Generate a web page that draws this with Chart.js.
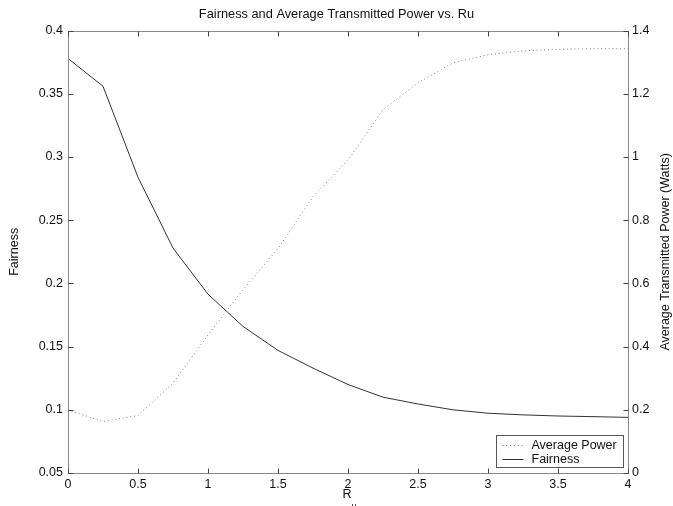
<!DOCTYPE html>
<html>
<head>
<meta charset="utf-8">
<script src="https://cdn.jsdelivr.net/npm/chart.js@4.4.0/dist/chart.umd.min.js"></script>
<style>
  html, body { margin: 0; padding: 0; background: #fff; }
  #contGrafica { width: 673px; height: 506px; }
</style>
</head>
<body>
<div id="contGrafica"><canvas id="grafica"></canvas></div>
<script>
// valores de Ru (eje x)
const ru = [0, 0.25, 0.5, 0.75, 1, 1.25, 1.5, 1.75, 2, 2.25, 2.5, 2.75, 3, 3.25, 3.5, 3.75, 4];
// fairness (eje izquierdo)
const fairness = [0.378, 0.356, 0.284, 0.228, 0.1915, 0.166, 0.147, 0.133, 0.12, 0.11, 0.1046, 0.1, 0.0973, 0.096, 0.0951, 0.0946, 0.094];
// potencia promedio transmitida en watts (eje derecho)
const avgPower = [0.2, 0.163, 0.182, 0.284, 0.437, 0.58, 0.71, 0.875, 0.99, 1.15, 1.235, 1.298, 1.324, 1.336, 1.341, 1.343, 1.343];

// marcas de los ejes
const ruTicks = [0, 0.5, 1, 1.5, 2, 2.5, 3, 3.5, 4];
const fairTicks = [0.05, 0.1, 0.15, 0.2, 0.25, 0.3, 0.35, 0.4];
const powerTicks = [0, 0.2, 0.4, 0.6, 0.8, 1, 1.2, 1.4];

const fuente = '"Liberation Sans", Arial, Helvetica, sans-serif';
Chart.defaults.font.family = fuente;
Chart.defaults.font.size = 12.5;
Chart.defaults.color = '#111';

const setTicks = lista => s => { s.ticks = lista.map(v => ({ value: v })); };

// marco, marcas hacia adentro, leyenda y etiquetas de ejes
const marcoEjes = {
    id: 'marcoEjes',
    afterDraw(chart) {
        const { ctx, chartArea: ca, scales } = chart;
        const L = Math.round(ca.left) + 0.5, R = Math.round(ca.right) + 0.5;
        const T = Math.round(ca.top) + 0.5, B = Math.round(ca.bottom) + 0.5;
        const tk = 5;
        ctx.save();
        ctx.strokeStyle = '#888';
        ctx.lineWidth = 1;
        ctx.strokeRect(L, T, R - L, B - T);

        ctx.strokeStyle = '#444';
        ctx.beginPath();
        scales.x.ticks.forEach(t => {
            const px = Math.round(scales.x.getPixelForValue(t.value)) + 0.5;
            ctx.moveTo(px, B); ctx.lineTo(px, B - tk);
            ctx.moveTo(px, T); ctx.lineTo(px, T + tk);
        });
        scales.yFair.ticks.forEach(t => {
            const py = Math.round(scales.yFair.getPixelForValue(t.value)) + 0.5;
            ctx.moveTo(L, py); ctx.lineTo(L + tk, py);
        });
        scales.yPot.ticks.forEach(t => {
            const py = Math.round(scales.yPot.getPixelForValue(t.value)) + 0.5;
            ctx.moveTo(R, py); ctx.lineTo(R - tk, py);
        });
        ctx.stroke();

        // leyenda
        const bw = 127, bh = 32;
        const bx = Math.round(ca.right - 5 - bw) + 0.5;
        const by = Math.round(ca.bottom - 6 - bh) + 0.5;
        ctx.fillStyle = '#fff';
        ctx.fillRect(bx, by, bw, bh);
        ctx.strokeStyle = '#555';
        ctx.strokeRect(bx, by, bw, bh);
        ctx.font = '12.5px ' + fuente;
        ctx.textBaseline = 'middle';
        ctx.textAlign = 'left';
        chart.data.datasets.forEach((ds, i) => {
            const yy = Math.round(by + 9 + i * 14) + 0.5;
            ctx.strokeStyle = ds.borderColor;
            ctx.lineWidth = ds.borderWidth;
            ctx.setLineDash(ds.borderDash || []);
            ctx.beginPath();
            ctx.moveTo(bx + 6, yy); ctx.lineTo(bx + 27, yy);
            ctx.stroke();
            ctx.setLineDash([]);
            ctx.fillStyle = '#111';
            ctx.fillText(ds.label, bx + 35, yy);
        });

        // título del eje derecho, leído de abajo hacia arriba
        ctx.save();
        ctx.translate(chart.width - 7, (ca.top + ca.bottom) / 2);
        ctx.rotate(-Math.PI / 2);
        ctx.textAlign = 'center';
        ctx.textBaseline = 'middle';
        ctx.fillText('Average Transmitted Power (Watts)', 0, 0);
        ctx.restore();

        // etiqueta del eje x con subíndice
        const cx = (ca.left + ca.right) / 2;
        ctx.textAlign = 'center';
        ctx.textBaseline = 'middle';
        ctx.font = '12.5px ' + fuente;
        ctx.fillText('R', cx - 1, 495);
        ctx.font = '9px ' + fuente;
        ctx.textBaseline = 'top';
        ctx.fillText('u', cx + 6, 502);
        ctx.restore();
    }
};

const graph = document.querySelector('#grafica');
const Grafico = new Chart(graph, {
    type: 'line',
    data: {
        datasets: [{
            label: 'Average Power',
            data: ru.map((x, i) => ({ x: x, y: avgPower[i] })),
            yAxisID: 'yPot',
            borderColor: '#808080',
            borderWidth: 1,
            borderDash: [1, 2.8],
            pointRadius: 0,
            fill: false
        }, {
            label: 'Fairness',
            data: ru.map((x, i) => ({ x: x, y: fairness[i] })),
            yAxisID: 'yFair',
            borderColor: '#333',
            borderWidth: 1,
            pointRadius: 0,
            fill: false
        }]
    },
    options: {
        responsive: true,
        maintainAspectRatio: false,
        animation: false,
        layout: { padding: 0 },
        plugins: {
            legend: { display: false },
            tooltip: { enabled: false },
            title: {
                display: true,
                text: 'Fairness and Average Transmitted Power vs. Ru',
                color: '#111',
                font: { size: 12.8, weight: 'normal' },
                padding: { top: 7, bottom: 8.3 }
            }
        },
        scales: {
            x: {
                type: 'linear',
                min: 0, max: 4,
                grid: { display: false, drawTicks: false },
                border: { display: false },
                ticks: { padding: 4, maxRotation: 0, autoSkip: false, callback: v => String(v) },
                afterBuildTicks: setTicks(ruTicks),
                afterFit: s => { s.height = 33; }
            },
            yFair: {
                type: 'linear',
                position: 'left',
                min: 0.05, max: 0.4,
                grid: { display: false, drawTicks: false },
                border: { display: false },
                ticks: { padding: 5, autoSkip: false, callback: v => String(+v.toFixed(2)) },
                afterBuildTicks: setTicks(fairTicks),
                title: { display: true, text: 'Fairness', padding: { top: 7 } },
                afterFit: s => { s.width = 68; }
            },
            yPot: {
                type: 'linear',
                position: 'right',
                min: 0, max: 1.4,
                grid: { display: false, drawTicks: false },
                border: { display: false },
                ticks: { padding: 4, autoSkip: false, callback: v => String(+v.toFixed(1)) },
                afterBuildTicks: setTicks(powerTicks),
                afterFit: s => { s.width = 45; }
            }
        }
    },
    plugins: [marcoEjes]
});
</script>
</body>
</html>
